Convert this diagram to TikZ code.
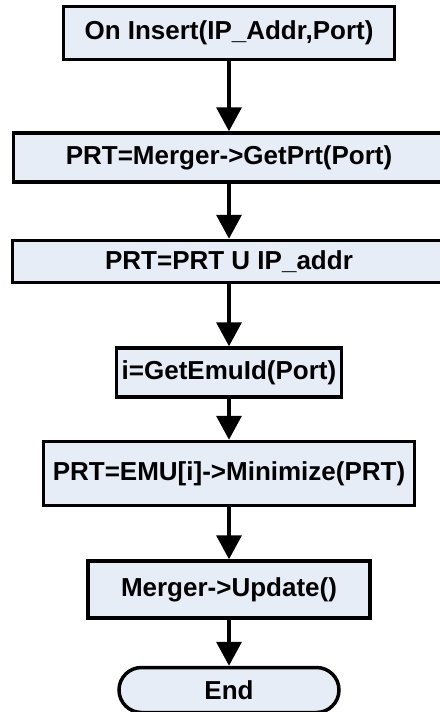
\documentclass[tikz,border=0pt]{standalone}
\usepackage{fontspec}
\setmainfont{Liberation Sans}
\usetikzlibrary{calc, positioning}
\usetikzlibrary{arrows.meta}
\usepgflibrary{shapes.misc}
\definecolor{boxfill}{RGB}{231,237,247}
\def\lw{3.5pt}
\def\mh{49pt}
\tikzset{
    stepbox/.style = {
        draw, rectangle, fill=boxfill, line width=\lw, minimum height=\mh,
        inner xsep=2pt, align=center, font=\fontsize{26}{30}\selectfont\bfseries
    },
    endbox/.style = {
        stepbox, rounded rectangle, minimum height=45pt
    }
}

\begin{document}
\begin{tikzpicture}
        \useasboundingbox (0pt,0pt) rectangle (439pt,-712pt);
        % Place the blocks
        \node [stepbox, minimum width=331pt, minimum height=53pt] (b1) at (229pt,-33pt) {On Insert(IP\_Addr,Port)};
        \node [stepbox, minimum width=431pt, below=70pt of b1] (b2) {PRT=Merger->GetPrt(Port)};
        \node [stepbox, minimum width=433pt, minimum height=42pt, below=55pt of b2] (b3) {PRT=PRT U IP\_addr};
        \node [stepbox, minimum width=225pt, below=62pt of b3] (b4) {i=GetEmuId(Port)};
        \node [stepbox, minimum width=371pt, minimum height=64pt, below=41pt of b4] (b5) {PRT=EMU[i]->Minimize(PRT)};
        \node [stepbox, minimum width=282pt, minimum height=57pt, below=52pt of b5] (b6) {Merger->Update()};
        \node [endbox, minimum width=224pt, below=46pt of b6] (end) {End};
        \begin{scope}[line width=\lw, >={Triangle[width=25pt,length=24pt]}]
            \draw[->] (b1.south) -- (b2.north);
            \draw[->] (b2.south) -- (b3.north);
            \draw[->] (b3.south) -- (b4.north);
            \draw[->] (b4.south) -- (b5.north);
            \draw[->] (b5.south) -- (b6.north);
            \draw[->] (b6.south) -- (end.north);
        \end{scope}
    \end{tikzpicture}
\end{document}
